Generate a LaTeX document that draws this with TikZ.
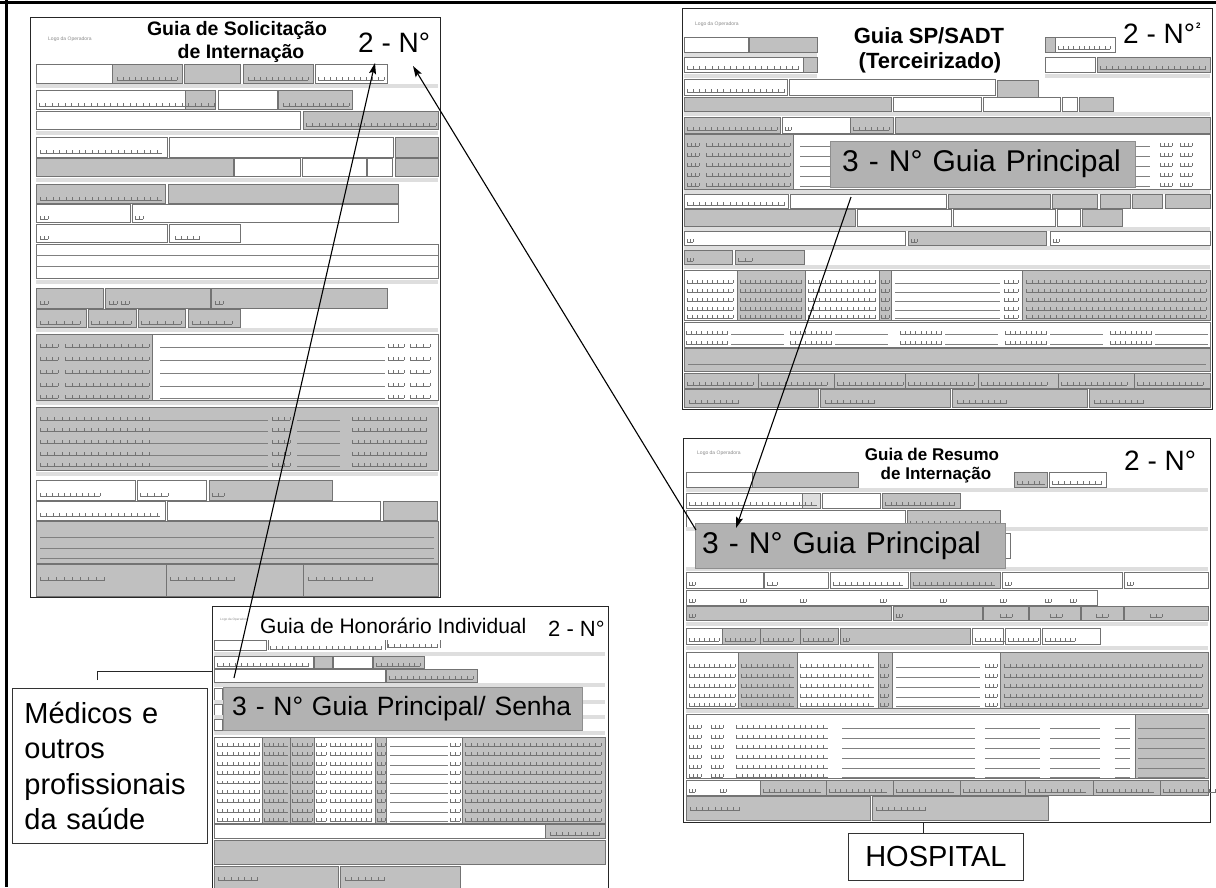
\documentclass[tikz,border=0pt]{standalone}
\usepackage{fontspec}
\setmainfont{Liberation Sans}
\usetikzlibrary{arrows.meta}

\definecolor{fieldgrey}{RGB}{192,192,192}
\definecolor{bargrey}{RGB}{222,222,222}
\definecolor{bandgrey}{RGB}{178,178,178}

% form building blocks (coordinates in pixels, y pointing down)
\newcommand{\gf}[4]{\draw[field,fill=fieldgrey] (#1,#2) rectangle (#3,#4);}
\newcommand{\wf}[4]{\draw[field,fill=white] (#1,#2) rectangle (#3,#4);}
\newcommand{\sbar}[3]{\fill[bargrey] (#1,#2) rectangle (#3,#2+4);}
\newcommand{\fline}[3]{\draw[rule] (#1,#2) -- (#3,#2);}
\newcommand{\comb}[4]{%
  \draw[combline] (#1,#2) -- ++(#3,0);
  \foreach \t in {0,#4,...,#3} {\draw[combline] ({#1+\t},#2) -- ++(0,-3);}%
}

\tikzset{
  field/.style={draw=black!55, line width=0.5pt},
  rule/.style={draw=black!50, line width=0.4pt},
  combline/.style={draw=black!55, line width=0.4pt},
  form/.style={draw=black!85, line width=1.3pt, fill=white, inner sep=0pt, anchor=north west},
  logo/.style={font=\fontsize{5}{6}\selectfont, text=black!45, anchor=base west, inner sep=0pt},
  formtitle/.style={font=\bfseries, anchor=base, inner sep=0pt},
  numlabel/.style={anchor=base west, inner sep=0pt},
  band/.style={fill=bandgrey, draw=bandgrey!80!black, line width=0.4pt, anchor=north west,
    align=left, minimum height=#1, inner ysep=0pt},
  tag/.style={draw=black!80, line width=0.8pt, fill=white, anchor=north west, inner ysep=0pt},
  link/.style={draw=black, line width=1.1pt, -{Stealth[length=11pt,width=7pt,inset=2pt]}},
  tie/.style={draw=black!85, line width=0.8pt}
}

\begin{document}
\begin{tikzpicture}[x=1pt,y=-1pt]
\useasboundingbox (0,0) rectangle (1216,887);
\fill[white] (0,0) rectangle (1216,887);

% outer frame (top and left edges)
\draw[line width=3pt] (0,2) -- (1216,2);
\draw[line width=3pt] (6.5,0) -- (6.5,887);

%================ Guia de Solicitacao de Internacao ================
\node[form, minimum width=410, minimum height=580] (sol) at (30,17) {};
\node[logo] (sollogo) at (48,40) {Logo da Operadora};
\node[formtitle, font=\fontsize{19.5}{22}\selectfont\bfseries] (soltitA) at (237,35) {Guia de Solicitação};
\node[formtitle, font=\fontsize{19.5}{22}\selectfont\bfseries] (soltitB) at (241,58) {de Internação};
\node[numlabel, font=\fontsize{28}{30}\selectfont] (solnum) at (358,52) {2 - N°};

\wf{36}{64}{112}{83} \gf{112}{64}{182}{83} \gf{184}{64}{240}{83} \gf{243}{64}{313}{83} \wf{315}{64}{387}{83}
\comb{117}{80}{60}{6} \comb{248}{80}{60}{6} \comb{318}{80}{66}{6}
\sbar{36}{84}{438}
\wf{36}{90}{185}{109} \gf{185}{90}{215}{109} \wf{218}{90}{277}{109} \gf{278}{90}{352}{109}
\comb{39}{106}{176}{6.5} \comb{283}{106}{66}{6}
\wf{36}{111}{300}{129} \gf{303}{111}{438}{129} \comb{306}{126}{130}{6.5}
\sbar{36}{131}{438}
\wf{36}{137}{167}{157} \wf{169}{137}{393}{157} \gf{395}{137}{438}{157} \comb{40}{153}{122}{6.5}
\gf{36}{158}{233}{176} \wf{234}{158}{300}{176} \wf{302}{158}{366}{176} \wf{367}{158}{392}{176} \gf{395}{158}{438}{176}
\sbar{36}{178}{438}
\gf{36}{184}{165}{203} \gf{168}{184}{398}{203} \comb{40}{200}{122}{6.5}
\wf{36}{204}{130}{222} \wf{132}{204}{398}{222}
\comb{40}{219}{8}{4} \comb{135}{219}{8}{4}
\wf{36}{224}{167}{242} \wf{169}{224}{240}{242} \comb{40}{239}{8}{4} \comb{175}{239}{25}{6}
\wf{36}{244}{438}{278} \fline{36}{255}{438} \fline{36}{266}{438}
\sbar{36}{280}{438}
\gf{36}{288}{103}{308} \gf{105}{288}{210}{308} \gf{211}{288}{387}{308}
\comb{40}{304}{8}{4} \comb{109}{304}{8}{4} \comb{121}{304}{8}{4} \comb{215}{304}{8}{4}
\gf{36}{309}{86}{327} \gf{88}{309}{136}{327} \gf{138}{309}{185}{327} \gf{188}{309}{240}{327}
\comb{40}{324}{40}{8} \comb{91}{324}{40}{8} \comb{141}{324}{40}{8} \comb{192}{324}{40}{8}
\sbar{36}{328}{438}
\gf{36}{334}{152}{400} \wf{152}{334}{438}{400}
\foreach \y in {347,360,373,386,398} {
  \comb{40}{\y}{18}{6} \comb{65}{\y}{84}{7}
  \fline{160}{\y}{385} \comb{388}{\y}{16}{5.3} \comb{410}{\y}{20}{6.6}
}
\sbar{36}{401}{438}
\gf{36}{407}{438}{470}
\foreach \y in {420,431,443,455,466} {
  \comb{40}{\y}{110}{7.3} \fline{150}{\y}{268} \comb{272}{\y}{18}{6}
  \fline{297}{\y}{340} \comb{352}{\y}{75}{6.2}
}
\sbar{36}{472}{438}
\wf{36}{480}{135}{500} \wf{137}{480}{206}{500} \gf{209}{480}{332}{500}
\comb{40}{496}{60}{6} \comb{140}{496}{28}{7} \comb{212}{496}{12}{6}
\wf{36}{501}{165}{520} \wf{167}{501}{380}{520} \gf{383}{501}{437}{520}
\comb{40}{516}{120}{6.5}
\gf{36}{521}{438}{563} \fline{40}{537}{434} \fline{40}{548}{434} \fline{40}{558}{434}
\gf{36}{564}{166}{596} \gf{166}{564}{303}{596} \gf{303}{564}{438}{596}
\comb{40}{580}{65}{8} \comb{170}{580}{65}{8} \comb{308}{580}{65}{8}

%================ Guia SP/SADT (Terceirizado) ================
\node[form, minimum width=530, minimum height=401] (sp) at (682,8) {};
\node[logo] (splogo) at (695,25) {Logo da Operadora};
\node[formtitle, font=\fontsize{22}{24}\selectfont\bfseries] (sptitA) at (929,43) {Guia SP/SADT};
\node[formtitle, font=\fontsize{22}{24}\selectfont\bfseries] (sptitB) at (930,68) {(Terceirizado)};
\node[numlabel, font=\fontsize{28}{30}\selectfont] (spnum) at (1123,43) {2 - N°};
\node[numlabel, font=\fontsize{8}{9}\selectfont\bfseries] (spsup) at (1196,28) {2};

\wf{684}{37}{748}{52} \gf{749}{37}{817}{52}
\gf{1045}{37}{1055}{52} \wf{1055}{37}{1115}{52} \comb{1058}{49}{52}{5.2}
\sbar{684}{53}{817}
\wf{684}{57}{803}{72} \gf{803}{57}{817}{72} \comb{687}{69}{112}{6.2}
\wf{1045}{57}{1095}{72} \gf{1097}{57}{1210}{72} \comb{1100}{69}{106}{6.2}
\sbar{684}{74}{817} \sbar{1045}{74}{1210}
\wf{684}{79}{787}{95} \wf{789}{79}{995}{95} \gf{997}{80}{1038}{97}
\comb{687}{92}{98}{6.1}
\gf{684}{97}{891}{111} \wf{893}{97}{981}{111} \wf{983}{97}{1060}{111} \wf{1062}{97}{1077}{111} \gf{1079}{97}{1113}{111}
\sbar{684}{112}{1210}
\gf{684}{117}{780}{133} \wf{782}{117}{850}{133} \gf{850}{117}{893}{133} \gf{895}{117}{1210}{133}
\comb{687}{130}{90}{6} \comb{785}{130}{6}{3} \comb{853}{130}{36}{6}
\gf{684}{134}{793}{189} \wf{793}{134}{1210}{189}
\foreach \y in {146,156,166,176,186} {
  \comb{687}{\y}{12}{4} \comb{706}{\y}{84}{6}
  \fline{800}{\y}{1150} \comb{1160}{\y}{12}{4} \comb{1180}{\y}{12}{4}
}
\sbar{684}{190}{1210}
\wf{684}{194}{788}{208} \wf{790}{194}{946}{208} \gf{948}{194}{1050}{208} \gf{1052}{194}{1097}{208}
\gf{1100}{194}{1130}{208} \gf{1132}{194}{1162}{208} \gf{1165}{194}{1210}{208}
\comb{687}{205}{98}{6.1}
\gf{684}{209}{855}{226} \wf{857}{209}{951}{226} \wf{953}{209}{1055}{226} \wf{1057}{209}{1080}{226} \gf{1082}{209}{1122}{226}
\sbar{684}{227}{1210}
\wf{684}{231}{905}{245} \gf{908}{231}{1046}{245} \wf{1050}{231}{1210}{245}
\comb{687}{242}{6}{3} \comb{911}{242}{6}{3} \comb{1053}{242}{6}{3}
\sbar{684}{246}{1210}
\gf{684}{250}{732}{264} \gf{735}{250}{804}{264}
\comb{687}{261}{6}{3} \comb{738}{261}{14}{7}
\sbar{684}{265}{1210}
\wf{684}{270}{737}{320} \gf{737}{270}{805}{320} \wf{805}{270}{879}{320} \gf{879}{270}{891}{320}
\wf{891}{270}{1022}{320} \gf{1022}{270}{1210}{320}
\foreach \y in {283,292,301,310,318} {
  \comb{687}{\y}{46}{5.1} \comb{740}{\y}{62}{5.1} \comb{808}{\y}{68}{5.6}
  \comb{881}{\y}{8}{4} \fline{895}{\y}{1000} \comb{1004}{\y}{14}{4.6} \comb{1026}{\y}{180}{6}
}
\wf{684}{322}{1210}{347}
\foreach \x in {686,790,900,1005,1110} {
  \foreach \y in {334,344} { \comb{\x}{\y}{42}{5.2} \fline{\x+45}{\y}{\x+98} }
}
\gf{684}{348}{1210}{371} \fline{688}{364}{1206}
\foreach \a/\b in {684/758,758/834,834/905,905/978,978/1058,1058/1134,1134/1210} {
  \gf{\a}{373}{\b}{388} \comb{\a+3}{385}{66}{6}
}
\foreach \a/\b in {684/818,820/950,952/1087,1089/1210} {
  \gf{\a}{389}{\b}{407} \comb{\a+5}{403}{50}{6.2}
}

%================ Guia de Resumo de Internacao ================
\node[form, minimum width=527, minimum height=384] (res) at (683,438) {};
\node[logo] (reslogo) at (697,454) {Logo da Operadora};
\node[formtitle, font=\fontsize{17}{19}\selectfont\bfseries] (restitA) at (932,460) {Guia de Resumo};
\node[formtitle, font=\fontsize{17}{19}\selectfont\bfseries] (restitB) at (936,479) {de Internação};
\node[numlabel, font=\fontsize{28}{30}\selectfont] (resnum) at (1124,470) {2 - N°};

\wf{686}{472}{752}{487} \gf{752}{472}{858}{487}
\gf{1014}{472}{1047}{487} \wf{1049}{472}{1106}{487} \comb{1017}{484}{28}{5.6} \comb{1052}{484}{50}{6.2}
\sbar{686}{488}{1208}
\wf{686}{493}{802}{508} \draw[field,fill=bargrey] (802,493) rectangle (820,508);
\wf{822}{493}{880}{508} \gf{882}{493}{960}{508}
\comb{689}{505}{128}{6.1} \comb{885}{505}{70}{5.8}
\wf{686}{510}{905}{527} \gf{907}{510}{1000}{527} \comb{910}{524}{86}{6.1}
\sbar{686}{527}{1208}
\wf{1005}{533}{1010}{558}
\sbar{686}{567}{1208}
\wf{686}{572}{763}{588} \wf{764}{572}{828}{588} \wf{830}{572}{908}{588} \gf{910}{572}{1000}{588}
\wf{1002}{572}{1122}{588} \wf{1124}{572}{1208}{588}
\comb{689}{585}{6}{3} \comb{767}{585}{10}{5} \comb{833}{585}{70}{6} \comb{913}{585}{82}{6}
\comb{1005}{585}{6}{3} \comb{1127}{585}{6}{3}
\wf{686}{590}{1097}{605}
\foreach \x in {689,740,800,880,940,1000,1045,1070} { \comb{\x}{602}{6}{3} }
\gf{686}{606}{891}{620} \gf{893}{606}{982}{620} \gf{983}{606}{1028}{620} \gf{1029}{606}{1080}{620}
\gf{1081}{606}{1123}{620} \gf{1124}{606}{1208}{620}
\comb{689}{617}{6}{3} \comb{896}{617}{6}{3} \comb{1000}{617}{12}{6} \comb{1050}{617}{12}{6}
\comb{1096}{617}{12}{6} \comb{1150}{617}{12}{6}
\sbar{686}{622}{1208}
\wf{686}{628}{722}{644} \gf{722}{628}{760}{644} \gf{760}{628}{800}{644} \gf{800}{628}{838}{644}
\gf{840}{628}{970}{644} \wf{972}{628}{1003}{644} \wf{1005}{628}{1040}{644} \wf{1042}{628}{1100}{644}
\foreach \x in {689,725,763,803,975,1008,1045} { \comb{\x}{641}{30}{5} }
\comb{843}{641}{6}{3}
\sbar{686}{646}{1208}
\wf{686}{652}{738}{708} \gf{738}{652}{797}{708} \wf{797}{652}{878}{708} \gf{878}{652}{892}{708}
\wf{892}{652}{1000}{708} \gf{1000}{652}{1208}{708}
\foreach \y in {667,677,687,697,706} {
  \comb{689}{\y}{46}{5.1} \comb{741}{\y}{53}{5.3} \comb{800}{\y}{74}{5.7}
  \comb{880}{\y}{8}{4} \fline{896}{\y}{980} \comb{985}{\y}{12}{4} \comb{1004}{\y}{198}{6}
}
\sbar{686}{709}{1208}
\wf{686}{714}{1135}{778} \gf{1135}{714}{1208}{778}
\foreach \y in {728,738,748,758,768,777} {
  \comb{689}{\y}{12}{4} \comb{711}{\y}{12}{4} \comb{736}{\y}{92}{5.8}
  \fline{842}{\y}{975} \fline{985}{\y}{1040} \fline{1050}{\y}{1100} \fline{1115}{\y}{1130}
  \fline{1138}{\y}{1205}
}
\wf{686}{780}{760}{795}
\foreach \a/\b in {760/826,826/893,893/960,960/1025,1025/1093,1093/1160,1160/1208} {
  \gf{\a}{780}{\b}{795} \comb{\a+3}{792}{58}{5.8}
}
\comb{689}{792}{6}{3} \comb{720}{792}{6}{3}
\gf{686}{796}{870}{820} \gf{872}{796}{1048}{820}
\comb{690}{810}{50}{6.2} \comb{876}{810}{50}{6.2}

%================ Guia de Honorario Individual ================
\node[form, minimum width=396, minimum height=300] (hon) at (212,606) {};
\node[logo, font=\fontsize{3.2}{4}\selectfont] (honlogo) at (220,620) {Logo da Operadora};
\node[numlabel, font=\fontsize{21}{23}\selectfont] (hontit) at (260,633) {Guia de Honorário Individual};
\node[numlabel, font=\fontsize{22}{24}\selectfont] (honnum) at (548,636) {2 - N°};

\wf{214}{640}{266}{650} \comb{270}{649}{112}{6.2} \comb{388}{647}{50}{6.2}
\draw[combline] (268,640) -- (268,650) (385,640) -- (385,650) (387,640) -- (387,648) (440,640) -- (440,648);
\sbar{214}{652}{605}
\wf{214}{656}{313}{668} \gf{314}{656}{332}{668} \wf{333}{656}{372}{668} \gf{373}{656}{424}{668}
\comb{217}{666}{92}{6.1} \comb{376}{666}{44}{5.5}
\wf{214}{669}{385}{682} \gf{386}{669}{477}{682} \comb{389}{679}{84}{6}
\sbar{214}{683}{605}
\wf{214}{688}{222}{700} \wf{214}{704}{222}{716} \wf{214}{719}{222}{730}
\sbar{214}{700}{605} \sbar{214}{715}{605}
\sbar{214}{731}{605}
\wf{214}{737}{262}{823} \gf{262}{737}{290}{823} \gf{290}{737}{314}{823} \wf{314}{737}{375}{823}
\gf{375}{737}{386}{823} \wf{386}{737}{462}{823} \gf{462}{737}{605}{823}
\foreach \i in {0,...,8} {
  \pgfmathsetmacro{\yy}{746+9.4*\i}
  \comb{217}{\yy}{43}{5.3} \comb{264}{\yy}{24}{4.8} \comb{292}{\yy}{20}{5}
  \comb{316}{\yy}{10}{5} \comb{330}{\yy}{42}{5.2} \comb{377}{\yy}{8}{4}
  \fline{390}{\yy}{448} \comb{450}{\yy}{10}{5} \comb{465}{\yy}{136}{5.9}
}
\wf{214}{824}{545}{838} \gf{545}{824}{605}{838} \comb{550}{835}{50}{6.2}
\gf{214}{840}{605}{864}
\gf{214}{866}{338}{892} \gf{340}{866}{460}{892}
\comb{218}{880}{40}{6.6} \comb{345}{880}{40}{6.6}

%================ highlighted fields ================
\node[band=46pt, minimum width=305, text width=281, inner xsep=12,
      font=\fontsize{30}{32}\selectfont] (spgp) at (830,141) {3 - N° Guia Principal};
\node[band=45pt, minimum width=310, text width=296, inner xsep=7,
      font=\fontsize{30}{32}\selectfont] (resgp) at (695,523) {3 - N° Guia Principal};
\node[band=43pt, minimum width=359, text width=341, inner xsep=9,
      font=\fontsize{26.5}{28}\selectfont] (hongp) at (223,687) {3 - N° Guia Principal/ Senha};

%================ actors ================
\node[tag, minimum width=195, minimum height=155, text width=171, inner xsep=12, align=left,
      font=\fontsize{29}{35.5}\selectfont] (med) at (12,688)
      {Médicos e\\outros\\profissionais\\da saúde};
\node[tag, minimum width=175, minimum height=47, font=\fontsize{29}{31}\selectfont] (hosp) at (848,833) {HOSPITAL};

\coordinate (medtap) at (97,680);
\coordinate (honedge) at (212,671);
\draw[tie] (medtap) |- (honedge);
\coordinate (hosptap) at (923,822);
\draw[tie] (hosptap) -- (hosptap |- hosp.north);

%================ references between forms ================
\coordinate (aStart) at (234,678);
\coordinate (aEnd) at (375,63);
\coordinate (bStart) at (696,530);
\coordinate (bEnd) at (413,66);
\coordinate (cStart) at (851,197);
\coordinate (cEnd) at (736,528);
\draw[link] (aStart) -- (aEnd);
\draw[link] (bStart) -- (bEnd);
\draw[link] (cStart) -- (cEnd);

\end{tikzpicture}
\end{document}
